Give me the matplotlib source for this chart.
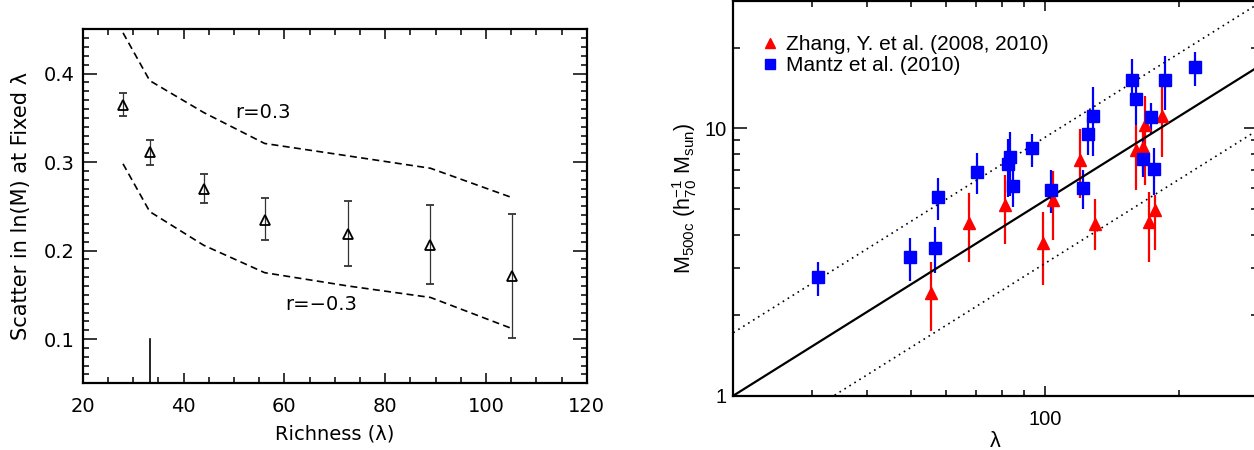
import matplotlib
matplotlib.use('Agg')
import matplotlib.pyplot as plt
from matplotlib.lines import Line2D
from numpy import *

# left panel: scatter in ln(M) at fixed richness
lam_bins = [28.0, 33.3, 44.0, 56.1, 72.6, 89.0, 105.1]
scatter = [0.365, 0.311, 0.270, 0.234, 0.219, 0.206, 0.171]
scatter_hi = [0.378, 0.325, 0.287, 0.259, 0.256, 0.252, 0.241]
scatter_lo = [0.352, 0.297, 0.254, 0.212, 0.183, 0.162, 0.101]
r_pos = [0.446, 0.392, 0.356, 0.321, 0.307, 0.293, 0.260]
r_neg = [0.298, 0.244, 0.206, 0.175, 0.160, 0.147, 0.112]
lam_cut = 33.4

# right panel: X-ray masses vs richness
zhang_lam = [55.5, 67.7, 81.5, 99.0, 104.5, 120.0, 129.7, 160.0, 167.5, 166.3, 183.5, 171.4, 176.9]
zhang_m = [2.43, 4.41, 5.14, 3.71, 5.38, 7.59, 4.38, 8.28, 10.26, 8.47, 11.1, 4.47, 4.94]
zhang_hi = [3.17, 5.73, 6.68, 4.87, 6.91, 9.89, 5.42, 10.3, 13.2, 10.3, 14.5, 5.78, 5.62]
zhang_lo = [1.75, 3.17, 3.69, 2.59, 3.82, 5.46, 3.50, 5.87, 6.12, 6.78, 7.81, 3.17, 3.50]

mantz_lam = [30.9, 49.7, 56.8, 57.7, 70.5, 82.7, 83.7, 85.0, 93.8, 103.5, 122.0, 125.1, 128.5,
             157.2, 160.5, 166.3, 173.4, 175.8, 186.4, 217.6]
mantz_m = [2.77, 3.29, 3.55, 5.51, 6.83, 7.34, 7.77, 6.06, 8.40, 5.85, 5.95, 9.47, 11.09,
           15.2, 12.8, 7.64, 11.0, 7.01, 15.2, 16.9]
mantz_hi = [3.15, 3.87, 4.26, 6.49, 8.05, 9.07, 9.69, 6.97, 9.55, 6.97, 6.97, 10.9, 14.2,
            18.1, 14.3, 9.0, 12.4, 8.40, 18.6, 19.3]
mantz_lo = [2.36, 2.69, 2.87, 4.53, 5.65, 5.54, 5.60, 5.06, 7.17, 4.80, 4.97, 7.93, 7.86,
            13.5, 10.26, 6.58, 9.55, 5.62, 11.7, 14.35]

# mass-richness relation and its scatter band
rel_lam = [20.0, 300.0]
rel_pivot = 20.0
rel_slope = 1.044
rel_scatter = 1.72

W, H = 1254, 450
fig = plt.figure(figsize=(W / 100.0, H / 100.0), dpi=100)


def px_axes(x0, x1, ytop, ybot):
    return fig.add_axes([x0 / W, 1 - ybot / H, (x1 - x0) / W, (ybot - ytop) / H])


# ---------------- left panel ----------------
ax1 = px_axes(82.7, 586.7, 29.3, 383.3)
lf = 'DejaVu Sans'
s = array(scatter)
ax1.errorbar(lam_bins, scatter, yerr=[s - array(scatter_lo), array(scatter_hi) - s],
             fmt='^', ms=7, mfc='none', mec='black', mew=1.3,
             ecolor='#333333', elinewidth=0.9, capsize=2.8, capthick=0.9)
ax1.plot(lam_bins, r_pos, color='black', lw=1.2, linestyle=(0, (4.2, 2.6)))
ax1.plot(lam_bins, r_neg, color='black', lw=1.2, linestyle=(0, (4.2, 2.6)))
ax1.plot([lam_cut, lam_cut], [0.05, 0.1], color='black', lw=1.2)
ax1.text(50.2, 0.356, 'r=0.3', fontsize=14, family=lf, va='center', ha='left')
ax1.text(60.1, 0.139, 'r=\u22120.3', fontsize=14, family=lf, va='center', ha='left')

ax1.set_xlim(20, 120)
ax1.set_ylim(0.05, 0.45)
ax1.set_xticks(arange(20, 121, 20))
ax1.set_xticks(arange(20, 121, 5), minor=True)
ax1.set_yticks([0.1, 0.2, 0.3, 0.4])
ax1.set_yticks(arange(0.05, 0.451, 0.01), minor=True)
ax1.tick_params(which='both', direction='in', top=True, right=True, width=1.1)
ax1.tick_params(axis='x', which='major', length=7, pad=10)
ax1.tick_params(axis='x', which='minor', length=4)
ax1.tick_params(axis='y', which='major', length=10, pad=6)
ax1.tick_params(axis='y', which='minor', length=4.5)
for sp in ax1.spines.values():
    sp.set_linewidth(1.6)
for lb in ax1.get_xticklabels() + ax1.get_yticklabels():
    lb.set_family(lf)
    lb.set_fontsize(14)
ax1.set_xlabel('Richness (\u03bb)', fontsize=14, family=lf, labelpad=6)
ax1.set_ylabel('Scatter in ln(M) at Fixed \u03bb', fontsize=15, family=lf, labelpad=9)

# ---------------- right panel ----------------
plt.rcParams['mathtext.fontset'] = 'custom'
plt.rcParams['mathtext.rm'] = 'Liberation Sans'
plt.rcParams['mathtext.it'] = 'Liberation Sans:italic'
rf = 'Liberation Sans'

ax2 = px_axes(733.3, 1257.5, 0.5, 395.7)
zm = array(zhang_m)
ax2.errorbar(zhang_lam, zhang_m, yerr=[zm - array(zhang_lo), array(zhang_hi) - zm],
             fmt='^', ms=8, color='red', mec='red', elinewidth=1.6, capsize=0)
mm = array(mantz_m)
ax2.errorbar(mantz_lam, mantz_m, yerr=[mm - array(mantz_lo), array(mantz_hi) - mm],
             fmt='s', ms=8.4, color='blue', mec='blue', elinewidth=1.6, capsize=0)

rl = array(rel_lam)
rm = (rl / rel_pivot) ** rel_slope
ax2.plot(rl, rm, color='black', lw=1.6)
ax2.plot(rl, rm * rel_scatter, color='black', lw=1.2, linestyle=(0, (1, 2.5)))
ax2.plot(rl, rm / rel_scatter, color='black', lw=1.2, linestyle=(0, (1, 2.5)))

ax2.set_xscale('log')
ax2.set_yscale('log')
ax2.set_xlim(20, 300)
ax2.set_ylim(1, 30)
ax2.set_xticks([100])
ax2.set_xticklabels(['100'])
ax2.set_yticks([1, 10])
ax2.set_yticklabels(['1', '10'])
ax2.tick_params(which='both', direction='in', top=True, right=True, width=1.1)
ax2.tick_params(axis='x', which='major', length=7, pad=10)
ax2.tick_params(axis='x', which='minor', length=4)
ax2.tick_params(axis='y', which='major', length=10, pad=5)
ax2.tick_params(axis='y', which='minor', length=5)
ax2.xaxis.set_minor_formatter(matplotlib.ticker.NullFormatter())
ax2.yaxis.set_minor_formatter(matplotlib.ticker.NullFormatter())
for sp in ax2.spines.values():
    sp.set_linewidth(1.6)
for lb in ax2.get_xticklabels() + ax2.get_yticklabels():
    lb.set_family(rf)
    lb.set_fontsize(14.5)
ax2.set_xlabel('\u03bb', fontsize=15.5, family=rf, labelpad=2)
ax2.set_ylabel(r'M$_{\rm 500c}$ (h$^{-1}_{70}$ M$_{\rm sun}$)', fontsize=15.5, family=rf, labelpad=4)

handles = [Line2D([], [], marker='^', ls='none', color='red', ms=7),
           Line2D([], [], marker='s', ls='none', color='blue', ms=7)]
ax2.legend(handles, ['Zhang, Y. et al. (2008, 2010)', 'Mantz et al. (2010)'],
           loc='upper left', bbox_to_anchor=(0.056, 0.912), frameon=False,
           prop={'family': rf, 'size': 15}, handlelength=0.7, handletextpad=0.4,
           labelspacing=0.1, borderpad=0, borderaxespad=0)

fig.savefig('out.png', dpi=100)
